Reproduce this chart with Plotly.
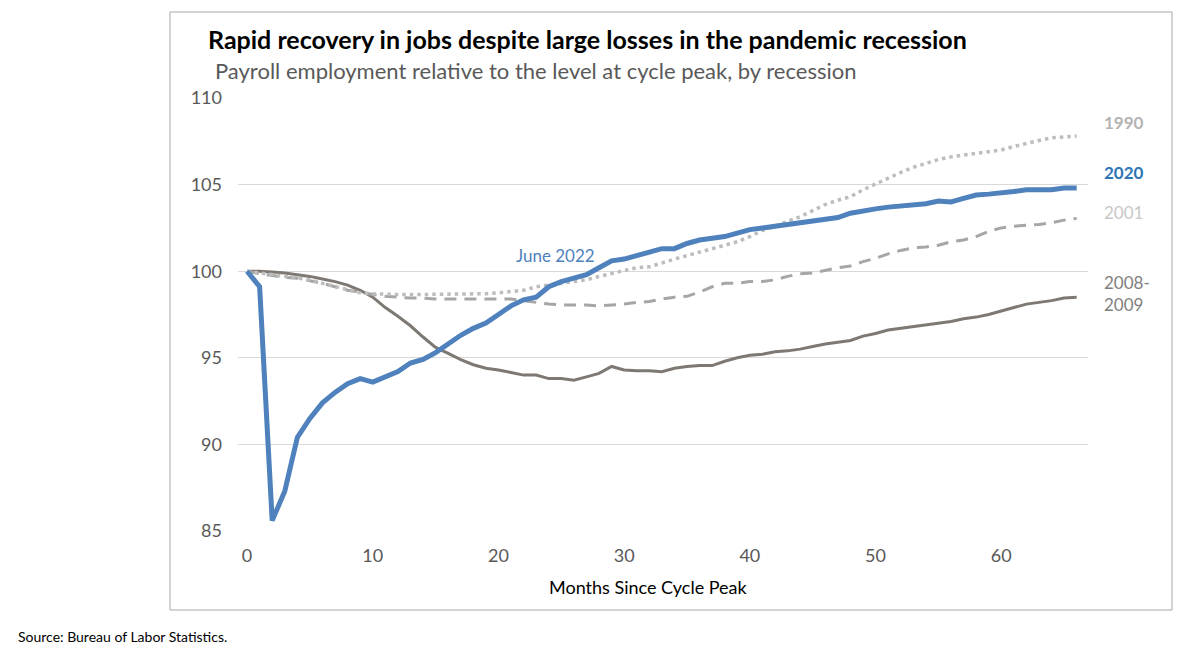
import plotly.graph_objects as go

months = list(range(0, 67))

r2020 = [100.0, 99.1, 85.6, 87.3, 90.4, 91.5, 92.4, 93.0, 93.5, 93.8,
         93.6, 93.9, 94.2, 94.7, 94.9, 95.3, 95.8, 96.3, 96.7, 97.0,
         97.5, 98.0, 98.35, 98.5, 99.1, 99.4, 99.6, 99.8, 100.2, 100.6,
         100.7, 100.9, 101.1, 101.3, 101.3, 101.6, 101.8, 101.9, 102.0, 102.2,
         102.4, 102.5, 102.6, 102.7, 102.8, 102.9, 103.0, 103.1, 103.35, 103.5,
         103.6, 103.7, 103.75, 103.8, 103.9, 104.05, 104.0, 104.2, 104.4, 104.45,
         104.5, 104.6, 104.7, 104.7, 104.7, 104.8, 104.8]

r2008 = [100.0, 100.0, 99.95, 99.9, 99.8, 99.7, 99.55, 99.4, 99.2, 98.9,
         98.5, 97.9, 97.4, 96.85, 96.2, 95.6, 95.25, 94.9, 94.6, 94.4,
         94.3, 94.15, 94.0, 94.0, 93.8, 93.8, 93.7, 93.9, 94.1, 94.5,
         94.3, 94.25, 94.25, 94.2, 94.4, 94.5, 94.55, 94.55, 94.8, 95.0,
         95.15, 95.2, 95.35, 95.4, 95.5, 95.65, 95.8, 95.9, 96.0, 96.25,
         96.4, 96.6, 96.7, 96.8, 96.9, 97.0, 97.1, 97.25, 97.35, 97.5,
         97.7, 97.9, 98.1, 98.2, 98.3, 98.45, 98.5]

r2001 = [100.0, 99.85, 99.75, 99.65, 99.6, 99.45, 99.3, 99.1, 98.9, 98.8,
         98.65, 98.55, 98.5, 98.45, 98.45, 98.4, 98.4, 98.4, 98.4, 98.4,
         98.4, 98.4, 98.3, 98.2, 98.1, 98.05, 98.05, 98.05, 98.0, 98.05,
         98.1, 98.2, 98.25, 98.4, 98.5, 98.55, 98.8, 99.1, 99.3, 99.3,
         99.4, 99.4, 99.5, 99.7, 99.85, 99.9, 100.05, 100.2, 100.3, 100.55,
         100.75, 101.0, 101.2, 101.35, 101.4, 101.5, 101.7, 101.8, 102.0, 102.3,
         102.5, 102.6, 102.65, 102.7, 102.8, 102.95, 103.05]

r1990 = [100.0, 99.9, 99.8, 99.75, 99.6, 99.5, 99.3, 99.1, 98.9, 98.75,
         98.7, 98.65, 98.65, 98.65, 98.65, 98.65, 98.65, 98.65, 98.65, 98.7,
         98.75, 98.8, 98.9, 99.1, 99.2, 99.3, 99.4, 99.5, 99.7, 99.85,
         100.0, 100.2, 100.25, 100.5, 100.7, 100.9, 101.1, 101.3, 101.5, 101.7,
         102.0, 102.35, 102.6, 102.85, 103.15, 103.5, 103.85, 104.1, 104.3, 104.7,
         105.05, 105.35, 105.7, 106.0, 106.25, 106.45, 106.6, 106.7, 106.75, 106.85,
         107.0, 107.2, 107.4, 107.55, 107.7, 107.75, 107.8]

x_ticks = [0, 10, 20, 30, 40, 50, 60]
y_ticks = [85, 90, 95, 100, 105, 110]

FONT = "Lato, Open Sans, sans-serif"

fig = go.Figure()
fig.add_trace(go.Scatter(x=months, y=r2008, mode="lines", name="2008-2009",
                         line=dict(color="#7E7873", width=3)))
fig.add_trace(go.Scatter(x=months, y=r2001, mode="lines", name="2001",
                         line=dict(color="#A6A6A6", width=3, dash="12px,8px")))
fig.add_trace(go.Scatter(x=months, y=r1990, mode="lines", name="1990",
                         line=dict(color="#BDBDBD", width=3.5, dash="3.5px,4px")))
fig.add_trace(go.Scatter(x=months, y=r2020, mode="lines", name="2020",
                         line=dict(color="#4F81BD", width=5)))

# page body has an 8px offset; all target pixel positions below are in screenshot pixels
OFF = 8
W, H = 1202 - OFF, 649 - OFF
ml, mr, mt, mb = 238 - OFF, 114, 98 - OFF, 118
pw, ph = W - ml - mr, H - mt - mb

def px(xp):
    return (xp - OFF - ml) / pw

def py(yp):
    return (H - mb - (yp - OFF)) / ph

def lab(text, xpix, ypix, size, color, anchor="left"):
    return dict(text=text, xref="paper", yref="paper", x=px(xpix), y=py(ypix),
                xanchor=anchor, yanchor="middle", align="left", showarrow=False,
                font=dict(size=size, color=color, family=FONT))

annotations = [
    lab("<b>Rapid recovery in jobs despite large losses in the pandemic recession</b>",
        206, 39, 25, "#000000"),
    lab("Payroll employment relative to the level at cycle peak, by recession",
        213, 70, 22, "#595959"),
    lab("June 2022", 555.5, 255, 17, "#4F81BD", anchor="center"),
    lab("<b>1990</b>", 1102, 123, 17, "#B4B4B4"),
    lab("<b>2020</b>", 1102, 172, 17, "#2E75B6"),
    lab("2001", 1102, 212, 17, "#C8C8C8"),
    lab("2008-<br>2009", 1102, 293, 17, "#7F7F7F"),
    lab("Months Since Cycle Peak", 648, 587, 18, "#000000", anchor="center"),
    lab("Source: Bureau of Labor Statistics.", 16, 636, 14, "#000000"),
]

fig.update_layout(
    width=W, height=H,
    margin=dict(l=ml, r=mr, t=mt, b=mb),
    paper_bgcolor="white", plot_bgcolor="white",
    showlegend=False,
    font=dict(family=FONT, color="#595959", size=18),
    annotations=annotations,
    shapes=[dict(type="rect", xref="paper", yref="paper",
                 x0=px(170), x1=px(1172), y0=py(610), y1=py(12),
                 line=dict(color="#A6A6A6", width=1), fillcolor="rgba(0,0,0,0)", layer="below")],
    xaxis=dict(range=[-0.72, 66.9], tickvals=x_ticks, ticktext=[str(v) for v in x_ticks],
               showgrid=False, zeroline=False, showline=False, ticks="",
               tickfont=dict(size=18, color="#595959"), ticklabelstandoff=12),
    yaxis=dict(range=[85, 110], tickvals=y_ticks, ticktext=[str(v) for v in y_ticks],
               showgrid=True, gridcolor="#D9D9D9", gridwidth=1, zeroline=False,
               showline=False, ticks="", tickfont=dict(size=18, color="#595959"),
               ticklabelstandoff=15),
)

fig.write_html("out.html")
